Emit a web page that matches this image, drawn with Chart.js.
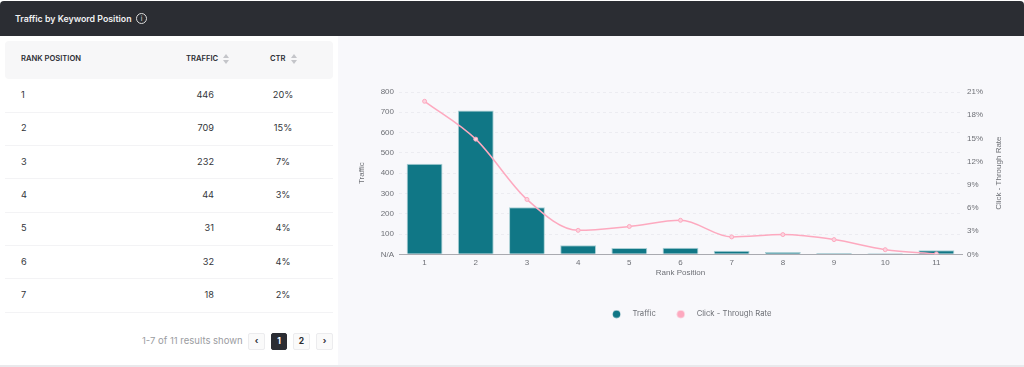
<!DOCTYPE html>
<html><head><meta charset="utf-8">
<script src="https://cdn.jsdelivr.net/npm/chart.js@4"></script>
<style>
html,body{margin:0;padding:0;background:#fff;width:1024px;height:367px;overflow:hidden;font-family:Inter,sans-serif}
#head{position:absolute;left:0;top:1px;width:1024px;height:35px;background:#2b2d33;border-radius:4px 4px 0 0;color:#f0f0f2}
#title{position:absolute;left:15px;top:11px;font-size:8.8px;font-weight:600;line-height:14px}
#info{position:absolute;left:136px;top:12px;width:11px;height:11px;border:1px solid #ddd;border-radius:50%;box-sizing:border-box;font-size:7px;line-height:9px;text-align:center;color:#ddd}
#panel{position:absolute;left:338px;top:36px;width:686px;height:329px;background:#f8f8fb}
#strip{position:absolute;left:0;top:365px;width:1024px;height:2px;background:#e9e9ec}
#thead{position:absolute;left:5px;top:41px;width:328px;height:38px;background:#f7f7f8;border-radius:4px}
.th{position:absolute;top:53px;font-size:7.6px;font-weight:600;color:#2b2d33;line-height:12px}
.sort{position:absolute;top:54px;width:0;height:10px}
.sort:before,.sort:after{content:"";position:absolute;left:0;border-left:3px solid transparent;border-right:3px solid transparent}
.sort:before{top:0;border-bottom:4px solid #c4c5c9}
.sort:after{top:6px;border-top:4px solid #c4c5c9}
.cell{position:absolute;font-size:9.2px;color:#33353a;line-height:14px}
.sep{position:absolute;left:5px;width:328px;height:1px;background:#f3f3f5}
#shown{position:absolute;left:142px;top:334px;font-size:9.5px;color:#9a9ca1;line-height:14px}
.pg{position:absolute;top:333px;height:17px;width:17px;box-sizing:border-box;border:1px solid #ececee;border-radius:2px;background:#fafafa;text-align:center;font-size:8.5px;font-weight:700;line-height:15px;color:#2b2d33}
.pg.on{background:#2b2d33;color:#fff;border-color:#2b2d33;width:16px}
#c{position:absolute;left:338px;top:36px}
</style></head><body>
<div id="panel"></div>
<div id="head"><div id="title">Traffic by Keyword Position</div><div id="info">i</div></div>
<div id="thead"></div>
<div class="th" style="left:21px">RANK POSITION</div>
<div class="th" style="left:186px">TRAFFIC</div><div class="sort" style="left:223px"></div>
<div class="th" style="left:270px">CTR</div><div class="sort" style="left:291px"></div>
<div id="rows"></div>
<div id="shown">1-7 of 11 results shown</div>
<div class="pg" style="left:248px">‹</div>
<div class="pg on" style="left:271px">1</div>
<div class="pg" style="left:293px">2</div>
<div class="pg" style="left:316px">›</div>
<div id="strip"></div>
<canvas id="c" width="686" height="329"></canvas>
<script>
const categories=["1","2","3","4","5","6","7","8","9","10","11"];
const traffic=[446,709,232,44,31,32,18,11,6,5,20];
const ctr=[19.8,14.9,7.1,3.1,3.6,4.4,2.25,2.55,1.9,0.6,0.05];
const tableRanks=["1","2","3","4","5","6","7"];
const tableTraffic=["446","709","232","44","31","32","18"];
const tableCtr=["20%","15%","7%","3%","4%","4%","2%"];
const rowTops=[88,121,155,188,221,255,288];
const sepTops=[112,145,178,212,245,278,312];

const rows=document.getElementById('rows');
let html='';
tableRanks.forEach((r,i)=>{
  html+=`<div class="cell" style="left:21px;top:${rowTops[i]}px">${r}</div>`+
  `<div class="cell" style="left:160px;width:54px;text-align:right;top:${rowTops[i]}px">${tableTraffic[i]}</div>`+
  `<div class="cell" style="left:258px;width:50px;text-align:center;top:${rowTops[i]}px">${tableCtr[i]}</div>`+
  `<div class="sep" style="top:${sepTops[i]}px"></div>`;
});
rows.innerHTML=html;

const TEAL='#107786',PINK='#fda9bf';
function dot(color){
  const d=document.createElement('canvas');d.width=9;d.height=9;
  const g=d.getContext('2d');g.fillStyle=color;g.beginPath();g.arc(4.5,4.5,3.8,0,Math.PI*2);g.fill();
  return d;
}
const FONT='"Liberation Sans"';
const GREY='#6e7076';
const rightTitle='Click - Through Rate';
const rightTitlePlugin={id:'rightTitle',afterDraw(chart){
  const s=chart.scales.y1,c=chart.ctx;
  c.save();c.translate(s.left+37,(s.top+s.bottom)/2);c.rotate(-Math.PI/2);
  c.font='8px '+FONT;c.fillStyle=GREY;c.textAlign='center';c.textBaseline='middle';
  c.fillText(rightTitle,0,0);c.restore();
}};
new Chart(document.getElementById('c'),{
  data:{labels:categories,datasets:[
    {type:'line',label:'Click - Through Rate',data:ctr,yAxisID:'y1',borderColor:PINK,backgroundColor:PINK,
     borderWidth:1.5,cubicInterpolationMode:'monotone',pointRadius:2,pointBackgroundColor:'#fcd3de',pointBorderColor:PINK,pointBorderWidth:1,order:1},
    {type:'bar',label:'Traffic',data:traffic,yAxisID:'y',backgroundColor:TEAL,borderColor:'#a9cfd4',borderWidth:{top:1,left:1,right:1,bottom:0},
     barPercentage:0.7,categoryPercentage:1,order:2}
  ]},
  options:{
    responsive:false,animation:false,
    layout:{padding:{left:14,right:0,top:56,bottom:37}},
    plugins:{tooltip:{enabled:false},
      legend:{position:'bottom',reverse:true,labels:{usePointStyle:true,pointStyleWidth:24,boxHeight:8,padding:13,color:GREY,font:{family:'Inter',size:7.7},
        generateLabels(chart){
          const items=Chart.defaults.plugins.legend.labels.generateLabels(chart);
          items.forEach(i=>{i.pointStyle=dot(i.datasetIndex===1?TEAL:PINK);});
          return items;
        }}}},
    scales:{
      x:{afterFit(s){s.height=43},grid:{display:false,drawTicks:false},border:{color:'#a9aab0'},
         ticks:{color:GREY,font:{family:FONT,size:8},padding:4,maxRotation:0},
         title:{display:true,text:'Rank Position',color:GREY,font:{family:FONT,size:8},padding:{top:0,bottom:20}}},
      y:{position:'left',min:0,max:800,afterFit(s){s.width=47},
         grid:{color:'#ececf1',drawTicks:false,lineWidth:1},border:{display:false,dash:[3,3]},
         ticks:{stepSize:100,color:GREY,font:{family:FONT,size:8},padding:5,callback:v=>v===0?'N/A':v},
         title:{display:true,text:'Traffic',color:GREY,font:{family:FONT,size:8},padding:{top:5,bottom:0}}},
      y1:{position:'right',min:0,max:21,afterFit(s){s.width=62},
         grid:{display:false,drawTicks:false},border:{display:false},
         ticks:{stepSize:3,color:GREY,font:{family:FONT,size:8},padding:5,callback:v=>v+'%'}}
    }
  },
  plugins:[rightTitlePlugin]
});
</script>
</body></html>
